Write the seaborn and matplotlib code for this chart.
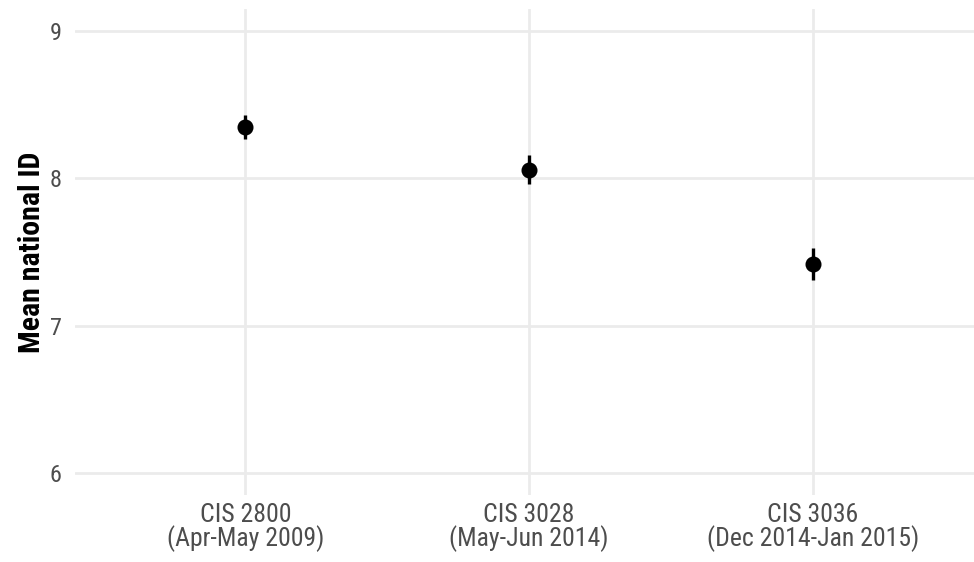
import numpy as np
import pandas as pd
import matplotlib
matplotlib.use("Agg")
import matplotlib.pyplot as plt
import seaborn as sns

# Survey waves and mean national identification with 95% intervals
waves = ["CIS 2800\n(Apr-May 2009)", "CIS 3028\n(May-Jun 2014)", "CIS 3036\n(Dec 2014-Jan 2015)"]
means = [8.35, 8.06, 7.42]
lower = [8.27, 7.96, 7.31]
upper = [8.43, 8.16, 7.53]
y_ticks = [6, 7, 8, 9]

df = pd.DataFrame({"wave": waves, "mean": means, "lo": lower, "hi": upper})

sns.set_theme(style="whitegrid")
plt.rcParams["font.family"] = ["Roboto Condensed", "DejaVu Sans"]

fig = plt.figure(figsize=(9.74, 5.62), dpi=100)
ax = fig.add_axes([75 / 974, 1 - 495 / 562, 1 - 75 / 974, (495 - 9) / 562])

pos = np.arange(len(df))
ax.vlines(pos, df["lo"], df["hi"], color="black", linewidth=2.4, zorder=3)
sns.pointplot(data=df, x="wave", y="mean", color="black", linestyle="none",
              errorbar=None, markersize=9.5, marker="o", ax=ax, zorder=4)

ax.set_ylim(5.85, 9.15)
ax.set_xlim(-0.6, 2.568)
ax.set_yticks(y_ticks)
ax.set_yticklabels([str(t) for t in y_ticks])

ax.grid(True, color="#ebebeb", linewidth=2.0)
ax.set_axisbelow(True)
for s in ax.spines.values():
    s.set_visible(False)
ax.tick_params(axis="x", length=0, labelsize=18.5, labelcolor="#4d4d4d", pad=6)
ax.tick_params(axis="y", length=0, labelsize=17.5, labelcolor="#4d4d4d", pad=9.5)
for lab in ax.get_xticklabels():
    lab.set_linespacing(0.9)
ax.set_xlabel("")
ax.set_ylabel("Mean national ID", fontsize=21.5, fontweight="bold", color="black")
ax.yaxis.set_label_coords(-0.032, 0.5)

fig.savefig("out.png", dpi=100, facecolor="white")
